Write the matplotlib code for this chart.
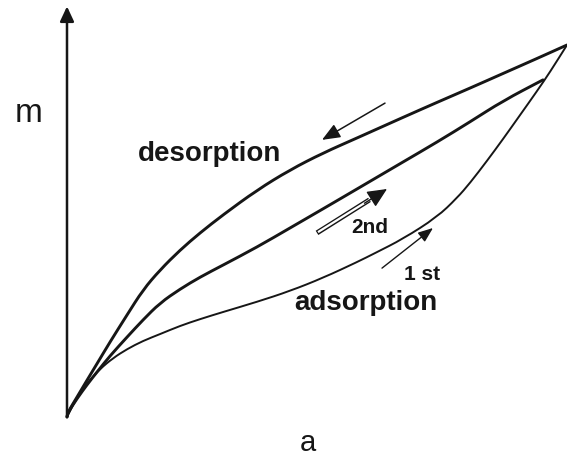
import matplotlib
matplotlib.use("Agg")
import matplotlib.pyplot as plt
from matplotlib.path import Path
from matplotlib.patches import PathPatch

plt.rcParams['font.family'] = ['Liberation Sans', 'DejaVu Sans']

# Sorption isotherm branches: water activity a vs. moisture content m
desorption_a = [0, 0.02, 0.2, 0.4, 0.6, 0.86, 1.2, 1.52, 1.86, 2.26, 2.66, 3.12,
                3.8, 4.46, 5.12, 5.8, 6.72, 7.4, 8.06, 8.72, 9.4, 10.0]
desorption_m = [0, 0.13, 0.53, 0.98, 1.42, 2.0, 2.72, 3.39, 3.92, 4.45, 4.91, 5.39,
                6.05, 6.59, 7.04, 7.44, 7.99, 8.39, 8.77, 9.16, 9.56, 9.92]

second_a = [0, 0.02, 0.2, 0.4, 0.6, 0.86, 1.2, 1.52, 1.86, 2.26, 2.66, 3.12, 3.8,
            4.46, 5.12, 5.8, 6.72, 7.4, 8.06, 8.72, 9.52]
second_m = [0, 0.12, 0.49, 0.86, 1.2, 1.63, 2.13, 2.59, 3.04, 3.41, 3.73, 4.05, 4.53,
            5.04, 5.55, 6.08, 6.8, 7.33, 7.87, 8.43, 8.99]

first_a = [0, 0.12, 0.26, 0.46, 0.66, 0.92, 1.2, 1.52, 1.86, 2.26, 2.66, 3.12, 3.8,
           4.46, 5.12, 5.8, 6.16, 6.72, 7.4, 7.8, 8.06, 8.4, 8.72, 9.06, 9.4, 9.66,
           10.0]
first_m = [0, 0.32, 0.64, 0.99, 1.28, 1.57, 1.81, 2.03, 2.21, 2.43, 2.61, 2.8, 3.07,
           3.36, 3.71, 4.13, 4.37, 4.75, 5.33, 5.84, 6.24, 6.83, 7.41, 8.05, 8.69,
           9.2, 9.92]

ink = '#161616'


def smooth_branch(ax, xs, ys, lw):
    """Draw a branch as a chain of quadratic Bezier pieces through its points."""
    pts = list(zip(xs, ys))
    verts = [pts[0]]
    codes = [Path.MOVETO]
    first_mid = ((pts[0][0] + pts[1][0]) / 2, (pts[0][1] + pts[1][1]) / 2)
    verts.append(first_mid)
    codes.append(Path.LINETO)
    for i in range(1, len(pts) - 1):
        mid = ((pts[i][0] + pts[i + 1][0]) / 2, (pts[i][1] + pts[i + 1][1]) / 2)
        verts += [pts[i], mid]
        codes += [Path.CURVE3, Path.CURVE3]
    verts.append(pts[-1])
    codes.append(Path.LINETO)
    ax.add_patch(PathPatch(Path(verts, codes), facecolor='none', edgecolor=ink,
                           lw=lw, capstyle='round', joinstyle='round'))


fig = plt.figure(figsize=(5.67, 4.57), dpi=100)
ax = fig.add_axes([0, 0, 1, 1])
ax.set_xlim(-1.34, 10.0)
ax.set_ylim(-1.067, 11.12)
ax.axis('off')

# axes drawn as arrows
ax.annotate('', xy=(0, 10.95), xytext=(0, 0),
            arrowprops=dict(arrowstyle='-|>,head_length=0.9,head_width=0.42',
                            lw=1.8, color=ink, mutation_scale=10,
                            shrinkA=0, shrinkB=0))
ax.annotate('', xy=(10.04, 0), xytext=(0, 0),
            arrowprops=dict(arrowstyle='-|>,head_length=0.8,head_width=0.35',
                            lw=1.2, color=ink, mutation_scale=10,
                            shrinkA=0, shrinkB=0))

# isotherm branches
smooth_branch(ax, desorption_a, desorption_m, 2.1)
smooth_branch(ax, second_a, second_m, 2.1)
smooth_branch(ax, first_a, first_m, 1.4)

# direction arrows
ax.annotate('', xy=(5.1, 7.39), xytext=(6.36, 8.37),
            arrowprops=dict(arrowstyle='-|>,head_length=1.1,head_width=0.45',
                            lw=1.1, color=ink, mutation_scale=10,
                            shrinkA=0, shrinkB=0))
# hollow-shaft arrow for the second cycle
ax.plot([5.0, 6.05], [4.91, 5.79], color=ink, lw=3.6, solid_capstyle='butt')
ax.plot([5.02, 6.05], [4.93, 5.79], color='white', lw=1.6, solid_capstyle='butt')
ax.annotate('', xy=(6.4, 6.08), xytext=(5.95, 5.7),
            arrowprops=dict(arrowstyle='-|>,head_length=1.2,head_width=0.55',
                            lw=1.0, color=ink, mutation_scale=10,
                            shrinkA=0, shrinkB=0))
ax.annotate('', xy=(7.32, 5.04), xytext=(6.3, 3.97),
            arrowprops=dict(arrowstyle='-|>,head_length=0.9,head_width=0.35',
                            lw=1.0, color=ink, mutation_scale=10,
                            shrinkA=0, shrinkB=0))

# labels
ax.text(-0.76, 8.08, 'm', fontsize=24, ha='center', va='center', color=ink)
ax.text(4.82, -0.7, 'a', fontsize=21, ha='center', va='center', color=ink)
ax.text(2.85, 6.83, 'desorption', fontsize=20, fontweight='bold',
        ha='center', va='baseline', color=ink)
ax.text(5.97, 2.85, 'adsorption', fontsize=20, fontweight='bold',
        ha='center', va='baseline', color=ink)
ax.text(6.06, 4.91, '2nd', fontsize=15, fontweight='bold',
        ha='center', va='baseline', color=ink)
ax.text(7.1, 3.65, '1 st', fontsize=15, fontweight='bold',
        ha='center', va='baseline', color=ink)

fig.savefig('out.png', dpi=100)
